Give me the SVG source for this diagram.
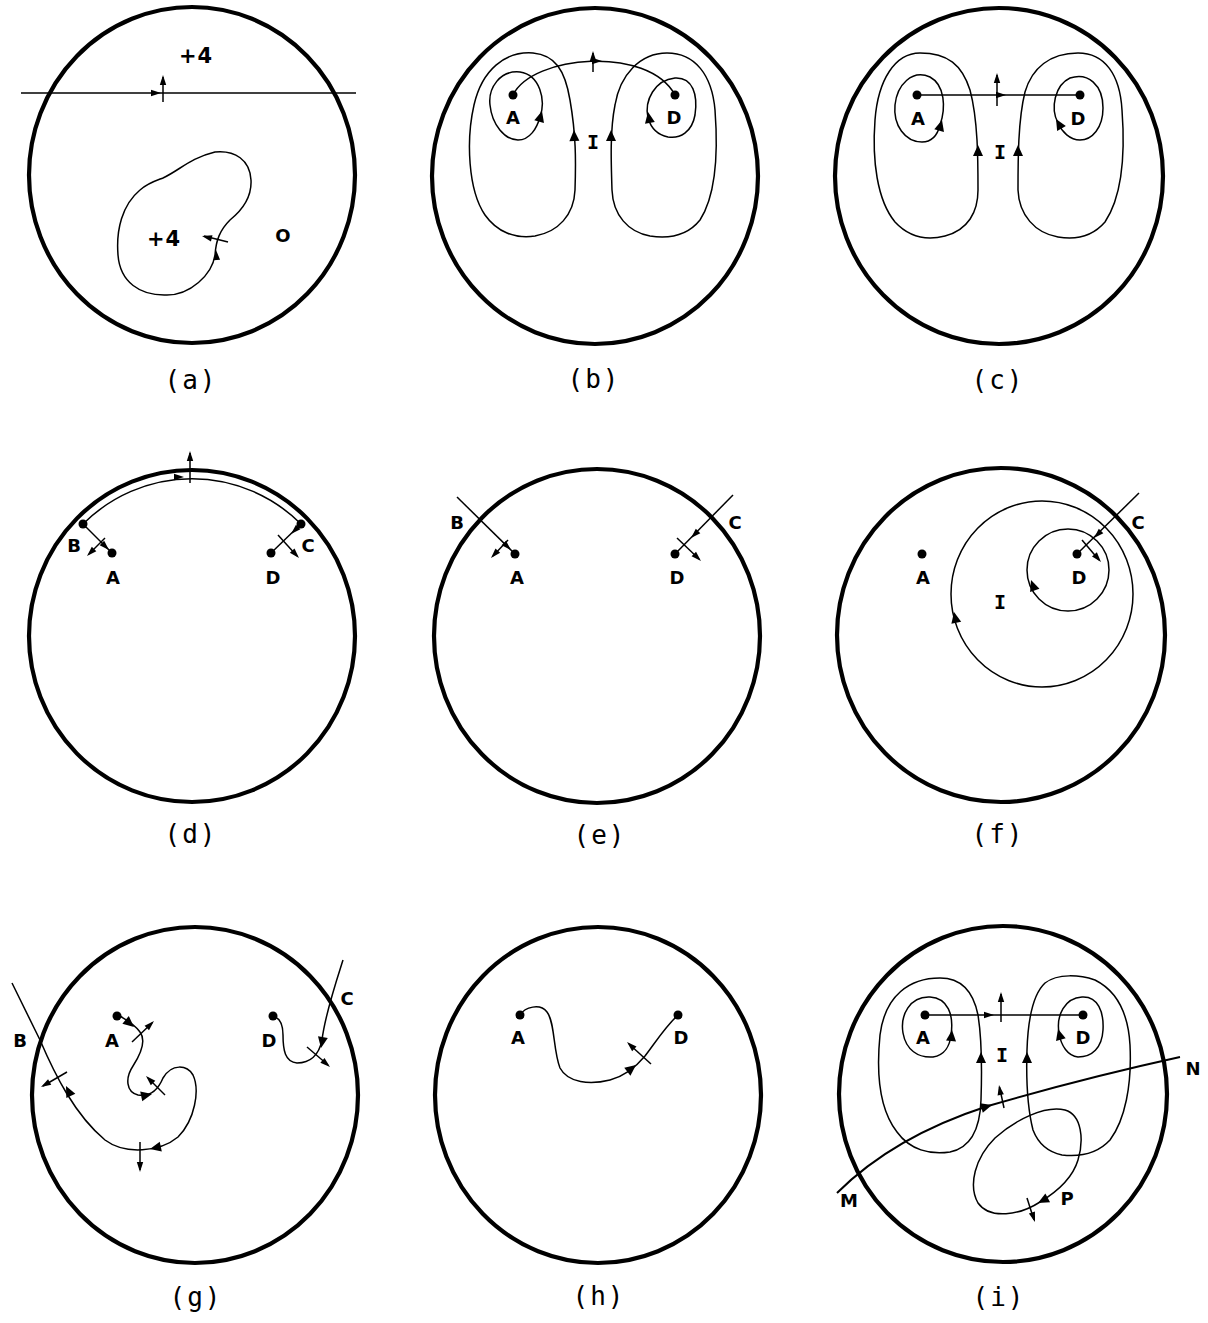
<svg xmlns="http://www.w3.org/2000/svg" xmlns:xlink="http://www.w3.org/1999/xlink" width="1208" height="1323" viewBox="0 0 1208 1323">
<style>
.bd{fill:none;stroke:#000;stroke-width:4.2}
.ln{fill:none;stroke:#000;stroke-width:1.5}
.ln2{fill:none;stroke:#000;stroke-width:2}
.dot{fill:#000}
.lb{font-family:"DejaVu Sans","Liberation Sans",sans-serif;font-weight:bold;font-size:18px;text-anchor:middle;fill:#000}
.ib{font-family:"DejaVu Sans Mono","Liberation Mono",monospace;font-weight:bold;font-size:20px;text-anchor:middle;fill:#000}
.big{font-size:21px;letter-spacing:1px}
.cap{font-family:"DejaVu Sans Mono","Liberation Mono",monospace;font-size:26px;letter-spacing:2px;text-anchor:middle;fill:#000}
</style>
<defs>
<path id="ah" d="M0,0 L-10,-3.2 L-10,3.2 Z" fill="#000"/>
<path id="ahb" d="M0,0 L-11,-5 L-11,5 Z" fill="#000"/>
</defs>
<rect width="1208" height="1323" fill="#fff"/>

<!-- (a) -->
<g id="panel-a">
<ellipse class="bd" cx="192" cy="175" rx="163" ry="168"/>
<g id="conn-a">
<path class="ln" d="M21,93 H356"/>
<use xlink:href="#ah" transform="translate(161,93)"/>
<path class="ln" d="M163,102 V77"/>
<use xlink:href="#ah" transform="translate(163,75) rotate(-90)"/>
<path class="ln" d="M163,178 C180,170 190,158 215,152 C235,150 250,160 251,180 C252,198 240,212 230,220 C220,230 216,240 215,255 C212,275 190,295 167,295 C140,296 120,282 118,255 C116,230 122,205 140,190 C148,183 155,181 163,178 Z"/>
<use xlink:href="#ah" transform="translate(216,250) rotate(-95)"/>
<path class="ln" d="M228,242 L204,236"/>
<use xlink:href="#ah" transform="translate(202,236) rotate(194)"/>
</g>
<text class="lb big" x="196" y="63">+4</text>
<text class="lb big" x="164" y="246">+4</text>
<text class="lb" x="283" y="242">O</text>
<text class="cap" x="191" y="389">(a)</text>
</g>

<!-- (b) -->
<g id="panel-b">
<ellipse class="bd" cx="595" cy="176" rx="163" ry="168"/>
<g id="conn-b">
<path class="ln" d="M513,95 C532,55 648,45 675,95"/>
<use xlink:href="#ah" transform="translate(602,61)"/>
<path class="ln" d="M593,72 V53"/>
<use xlink:href="#ah" transform="translate(593,51) rotate(-90)"/>
<path class="ln" d="M540,117 C546,100 540,75 520,72 C500,70 488,88 490,105 C492,125 505,140 518,140 C530,140 537,128 540,117"/>
<use xlink:href="#ahb" transform="translate(542,111) rotate(-75)"/>
<path class="ln" d="M575,190 C576,160 576,135 570,100 C565,70 555,55 533,53 C505,51 482,70 474,105 C466,140 468,190 485,215 C497,232 515,239 535,236 C558,232 574,215 575,190 Z"/>
<use xlink:href="#ahb" transform="translate(574,130) rotate(-92)"/>
<path class="ln" d="M612,190 C611,160 610,130 615,105 C620,75 640,53 667,53 C695,53 712,75 715,110 C718,150 716,195 700,220 C688,235 670,239 650,236 C628,232 613,215 612,190 Z"/>
<use xlink:href="#ahb" transform="translate(611,130) rotate(-90)"/>
<path class="ln" d="M648,118 C644,100 655,80 675,78 C693,77 698,95 695,115 C692,132 680,139 668,137 C658,135 651,128 648,118 Z"/>
<use xlink:href="#ahb" transform="translate(648,112) rotate(-100)"/>
</g>
<circle class="dot" cx="513" cy="95" r="4.5"/>
<circle class="dot" cx="675" cy="95" r="4.5"/>
<text class="lb" x="513" y="124">A</text>
<text class="lb" x="674" y="124">D</text>
<text class="ib" x="593" y="149">I</text>
<text class="cap" x="594" y="388">(b)</text>
</g>

<!-- (c) -->
<g id="panel-c">
<ellipse class="bd" cx="999" cy="176" rx="164" ry="168"/>
<g id="conn-c">
<path class="ln" d="M917,95 H1080"/>
<use xlink:href="#ah" transform="translate(1006,95)"/>
<path class="ln" d="M997,106 V75"/>
<use xlink:href="#ah" transform="translate(997,73) rotate(-90)"/>
<path class="ln" d="M940,125 C946,108 945,85 930,77 C912,69 897,85 895,105 C893,125 905,142 922,142 C933,142 938,133 940,125"/>
<use xlink:href="#ahb" transform="translate(942,120) rotate(-75)"/>
<path class="ln" d="M978,190 C978,160 978,120 970,90 C962,65 948,53 920,53 C895,53 878,80 875,120 C872,160 877,200 895,222 C908,236 925,241 945,236 C968,230 978,212 978,190 Z"/>
<use xlink:href="#ahb" transform="translate(978,145) rotate(-90)"/>
<path class="ln" d="M1018,190 C1018,160 1018,120 1025,92 C1032,68 1050,53 1078,53 C1105,53 1120,75 1122,110 C1125,150 1123,195 1105,222 C1092,237 1075,240 1058,237 C1035,233 1019,215 1018,190 Z"/>
<use xlink:href="#ahb" transform="translate(1018,145) rotate(-90)"/>
<path class="ln" d="M1058,123 C1050,108 1055,85 1070,78 C1088,72 1103,85 1103,108 C1103,128 1092,140 1080,140 C1070,140 1062,132 1058,123 Z"/>
<use xlink:href="#ahb" transform="translate(1056,119) rotate(-120)"/>
</g>
<circle class="dot" cx="917" cy="95" r="4.5"/>
<circle class="dot" cx="1080" cy="95" r="4.5"/>
<text class="lb" x="918" y="125">A</text>
<text class="lb" x="1078" y="125">D</text>
<text class="ib" x="1000" y="159">I</text>
<text class="cap" x="998" y="389">(c)</text>
</g>

<!-- (d) -->
<g id="panel-d">
<ellipse class="bd" cx="192" cy="636" rx="163" ry="166"/>
<g id="conn-d">
<path class="ln" d="M83,524 A156,159 0 0 1 301,524"/>
<use xlink:href="#ah" transform="translate(184,477)"/>
<path class="ln" d="M190,483 V453"/>
<use xlink:href="#ah" transform="translate(190,451) rotate(-90)"/>
<path class="ln" d="M83,524 L112,553"/>
<use xlink:href="#ah" transform="translate(109,550) rotate(45)"/>
<path class="ln" d="M105,538 L89,554"/>
<use xlink:href="#ah" transform="translate(87,556) rotate(135)"/>
<path class="ln" d="M301,524 L271,553"/>
<use xlink:href="#ah" transform="translate(291,534) rotate(136)"/>
<path class="ln" d="M278,535 L297,556"/>
<use xlink:href="#ah" transform="translate(299,558) rotate(47)"/>
</g>
<circle class="dot" cx="83" cy="524" r="4.5"/>
<circle class="dot" cx="112" cy="553" r="4.5"/>
<circle class="dot" cx="301" cy="524" r="4.5"/>
<circle class="dot" cx="271" cy="553" r="4.5"/>
<text class="lb" x="74" y="552">B</text>
<text class="lb" x="113" y="584">A</text>
<text class="lb" x="308" y="552">C</text>
<text class="lb" x="273" y="584">D</text>
<text class="cap" x="191" y="843">(d)</text>
</g>

<!-- (e) -->
<g id="panel-e">
<ellipse class="bd" cx="597" cy="636" rx="163" ry="167"/>
<g id="conn-e">
<path class="ln" d="M457,497 L515,554"/>
<use xlink:href="#ah" transform="translate(511,550) rotate(44)"/>
<path class="ln" d="M508,540 L493,556"/>
<use xlink:href="#ah" transform="translate(491,558) rotate(133)"/>
<path class="ln" d="M733,495 L675,554"/>
<use xlink:href="#ah" transform="translate(691,538) rotate(135)"/>
<path class="ln" d="M677,538 L699,559"/>
<use xlink:href="#ah" transform="translate(701,561) rotate(44)"/>
</g>
<circle class="dot" cx="515" cy="554" r="4.5"/>
<circle class="dot" cx="675" cy="554" r="4.5"/>
<text class="lb" x="457" y="529">B</text>
<text class="lb" x="517" y="584">A</text>
<text class="lb" x="735" y="529">C</text>
<text class="lb" x="677" y="584">D</text>
<text class="cap" x="600" y="844">(e)</text>
</g>

<!-- (f) -->
<g id="panel-f">
<ellipse class="bd" cx="1001" cy="635" rx="164" ry="167"/>
<g id="conn-f">
<path class="ln" d="M1139,493 L1077,554"/>
<use xlink:href="#ah" transform="translate(1094,538) rotate(135)"/>
<path class="ln" d="M1082,540 L1099,560"/>
<use xlink:href="#ah" transform="translate(1101,562) rotate(49)"/>
<circle class="ln" cx="1068" cy="570" r="41"/>
<use xlink:href="#ahb" transform="translate(1031,580) rotate(-110)"/>
<ellipse class="ln" cx="1042" cy="594" rx="91" ry="93"/>
<use xlink:href="#ahb" transform="translate(954,612) rotate(-102)"/>
</g>
<circle class="dot" cx="922" cy="554" r="4.5"/>
<circle class="dot" cx="1077" cy="554" r="4.5"/>
<text class="lb" x="923" y="584">A</text>
<text class="lb" x="1079" y="584">D</text>
<text class="ib" x="1000" y="609">I</text>
<text class="lb" x="1138" y="529">C</text>
<text class="cap" x="998" y="843">(f)</text>
</g>

<!-- (g) -->
<g id="panel-g">
<ellipse class="bd" cx="195" cy="1095" rx="163" ry="168"/>
<g id="conn-g">
<path class="ln" d="M12,983 L40,1040 C55,1075 75,1115 105,1140 C125,1155 160,1152 178,1137 C195,1120 200,1090 193,1075 C187,1065 172,1063 163,1078 C158,1090 150,1097 138,1095 C126,1092 125,1078 133,1066 C142,1052 146,1040 140,1032 C135,1025 127,1020 118,1015"/>
<use xlink:href="#ahb" transform="translate(66,1086) rotate(-116)"/>
<use xlink:href="#ahb" transform="translate(150,1149) rotate(168)"/>
<use xlink:href="#ahb" transform="translate(152,1094) rotate(-12)"/>
<use xlink:href="#ahb" transform="translate(134,1027) rotate(40)"/>
<path class="ln" d="M132,1042 L152,1023"/>
<use xlink:href="#ah" transform="translate(154,1021) rotate(-44)"/>
<path class="ln" d="M165,1095 L148,1078"/>
<use xlink:href="#ah" transform="translate(146,1076) rotate(-135)"/>
<path class="ln" d="M67,1072 L43,1086"/>
<use xlink:href="#ah" transform="translate(41,1087) rotate(150)"/>
<path class="ln" d="M140,1142 V1170"/>
<use xlink:href="#ah" transform="translate(140,1172) rotate(90)"/>
<path class="ln" d="M343,960 C335,985 325,1015 322,1040 C319,1055 310,1063 297,1063 C285,1062 283,1050 283,1035 C283,1025 280,1018 273,1016"/>
<use xlink:href="#ahb" transform="translate(321,1048) rotate(100)"/>
<path class="ln" d="M307,1047 L328,1065"/>
<use xlink:href="#ah" transform="translate(330,1067) rotate(41)"/>
</g>
<circle class="dot" cx="117" cy="1016" r="4.5"/>
<circle class="dot" cx="273" cy="1016" r="4.5"/>
<text class="lb" x="112" y="1047">A</text>
<text class="lb" x="20" y="1047">B</text>
<text class="lb" x="269" y="1047">D</text>
<text class="lb" x="347" y="1005">C</text>
<text class="cap" x="196" y="1306">(g)</text>
</g>

<!-- (h) -->
<g id="panel-h">
<ellipse class="bd" cx="598" cy="1095" rx="163" ry="168"/>
<g id="conn-h">
<path class="ln" d="M520,1015 C525,1007 540,1003 547,1012 C555,1022 553,1050 560,1068 C568,1083 590,1085 610,1080 C625,1076 635,1068 645,1056 C655,1043 665,1027 678,1015"/>
<use xlink:href="#ahb" transform="translate(636,1065) rotate(-38)"/>
<path class="ln" d="M651,1064 L629,1044"/>
<use xlink:href="#ah" transform="translate(627,1042) rotate(-137)"/>
</g>
<circle class="dot" cx="520" cy="1015" r="4.5"/>
<circle class="dot" cx="678" cy="1015" r="4.5"/>
<text class="lb" x="518" y="1044">A</text>
<text class="lb" x="681" y="1044">D</text>
<text class="cap" x="599" y="1305">(h)</text>
</g>

<!-- (i) -->
<g id="panel-i">
<ellipse class="bd" cx="1003" cy="1094" rx="164" ry="168"/>
<g id="conn-i">
<path class="ln" d="M925,1015 H1083"/>
<use xlink:href="#ah" transform="translate(994,1015)"/>
<path class="ln" d="M1001,1022 V994"/>
<use xlink:href="#ah" transform="translate(1001,992) rotate(-90)"/>
<path class="ln" d="M951,1035 C954,1015 948,998 930,997 C910,996 900,1015 903,1033 C906,1050 918,1058 933,1057 C945,1055 950,1045 951,1035"/>
<use xlink:href="#ahb" transform="translate(952,1030) rotate(-85)"/>
<path class="ln" d="M981,1100 C982,1070 982,1040 978,1015 C973,990 960,978 940,978 C910,978 885,995 880,1035 C876,1075 880,1110 897,1132 C910,1150 930,1155 950,1152 C970,1148 980,1130 981,1100 Z"/>
<use xlink:href="#ahb" transform="translate(981,1052) rotate(-90)"/>
<path class="ln" d="M1033,1130 C1028,1110 1026,1080 1027,1050 C1028,1020 1032,995 1045,983 C1058,973 1080,975 1095,980 C1115,990 1128,1010 1130,1045 C1132,1085 1125,1120 1110,1140 C1098,1153 1080,1157 1062,1155 C1048,1152 1038,1143 1033,1130 Z"/>
<use xlink:href="#ahb" transform="translate(1027,1052) rotate(-90)"/>
<path class="ln" d="M1059,1033 C1056,1015 1065,998 1082,997 C1098,996 1104,1012 1103,1030 C1102,1048 1092,1057 1078,1057 C1068,1056 1061,1046 1059,1033"/>
<use xlink:href="#ahb" transform="translate(1058,1029) rotate(-105)"/>
<path class="ln2" d="M837,1193 C870,1160 920,1128 988,1106 C1060,1085 1130,1068 1180,1057"/>
<use xlink:href="#ahb" transform="translate(992,1105) rotate(-16)"/>
<path class="ln" d="M1004,1108 L999.5,1087"/>
<use xlink:href="#ah" transform="translate(999,1085) rotate(-100)"/>
<path class="ln" d="M1040,1202 C1055,1193 1072,1180 1078,1160 C1084,1140 1082,1115 1065,1110 C1045,1105 1015,1120 995,1138 C975,1158 968,1185 978,1203 C990,1220 1020,1215 1040,1202 Z"/>
<use xlink:href="#ahb" transform="translate(1038,1203) rotate(152)"/>
<path class="ln" d="M1027,1198 L1034,1220"/>
<use xlink:href="#ah" transform="translate(1035,1222) rotate(72)"/>
</g>
<circle class="dot" cx="925" cy="1015" r="4.5"/>
<circle class="dot" cx="1083" cy="1015" r="4.5"/>
<text class="lb" x="923" y="1044">A</text>
<text class="lb" x="1083" y="1044">D</text>
<text class="ib" x="1002" y="1062">I</text>
<text class="lb" x="849" y="1207">M</text>
<text class="lb" x="1193" y="1075">N</text>
<text class="lb" x="1067" y="1205">P</text>
<text class="cap" x="999" y="1306">(i)</text>
</g>
</svg>
